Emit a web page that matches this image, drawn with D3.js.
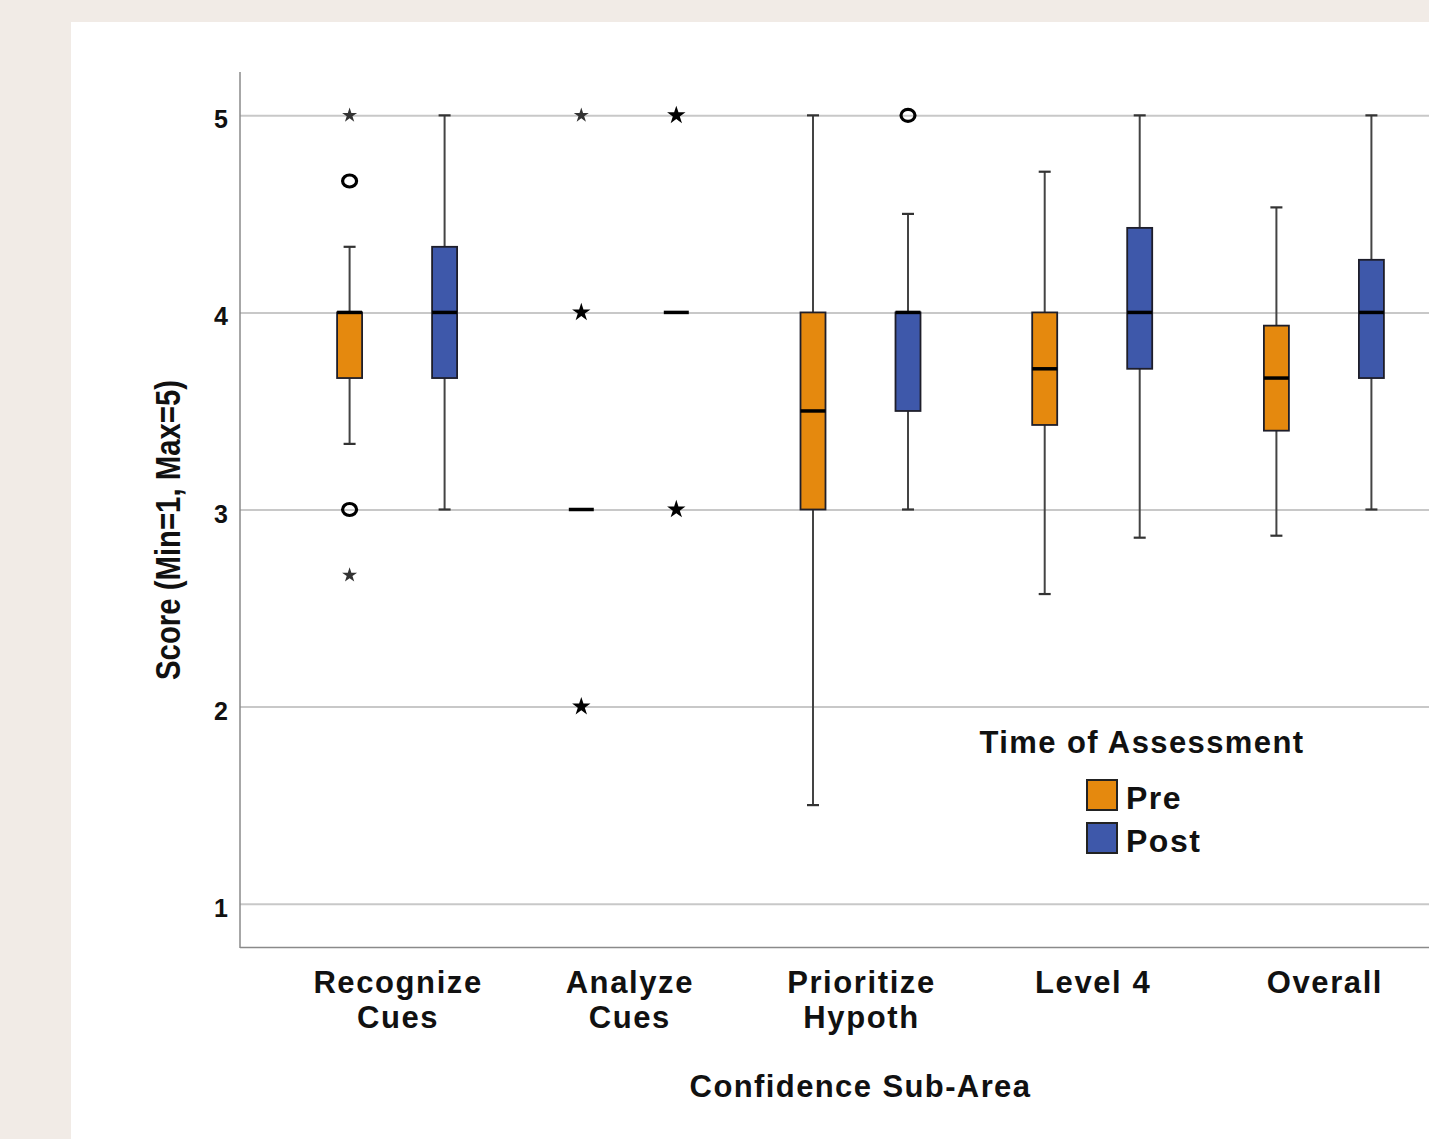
<!DOCTYPE html>
<html>
<head>
<meta charset="utf-8">
<script src="https://cdn.jsdelivr.net/npm/d3@7"></script>
<style>
  body { margin: 0; background: #f1ebe6; }
  svg { display: block; }
  text { font-family: "Liberation Sans", Arial, sans-serif; font-weight: bold; fill: #111; }
</style>
</head>
<body>
<div id="chart"></div>
<script>
// Categories on the x axis and their two-line tick labels
const categories = ["Recognize Cues", "Analyze Cues", "Prioritize Hypoth", "Level 4", "Overall"];
const tickLabels = [["Recognize", "Cues"], ["Analyze", "Cues"], ["Prioritize", "Hypoth"], ["Level 4"], ["Overall"]];
const seriesNames = ["Pre", "Post"];
const yTicks = [1, 2, 3, 4, 5];

// Box statistics per category: [lower whisker, Q1, median, Q3, upper whisker]
const preStats = [
    [3.333, 3.667, 4.0, 4.0, 4.333],
    [3.0, 3.0, 3.0, 3.0, 3.0],
    [1.5, 3.0, 3.5, 4.0, 5.0],
    [2.571, 3.429, 3.714, 4.0, 4.714],
    [2.867, 3.4, 3.667, 3.933, 4.533]
];
const postStats = [
    [3.0, 3.667, 4.0, 4.333, 5.0],
    [4.0, 4.0, 4.0, 4.0, 4.0],
    [3.0, 3.5, 4.0, 4.0, 4.5],
    [2.857, 3.714, 4.0, 4.429, 5.0],
    [3.0, 3.667, 4.0, 4.267, 5.0]
];

// Outliers: [category, series, value, kind ("o" = outlier, "*" = extreme), overlapping cases]
const outliers = [
    ["Recognize Cues", "Pre", 5.0, "*", 1],
    ["Recognize Cues", "Pre", 4.667, "o", 1],
    ["Recognize Cues", "Pre", 3.0, "o", 2],
    ["Recognize Cues", "Pre", 2.667, "*", 1],
    ["Analyze Cues", "Pre", 5.0, "*", 1],
    ["Analyze Cues", "Pre", 4.0, "*", 2],
    ["Analyze Cues", "Pre", 2.0, "*", 2],
    ["Analyze Cues", "Post", 5.0, "*", 2],
    ["Analyze Cues", "Post", 3.0, "*", 2],
    ["Prioritize Hypoth", "Post", 5.0, "o", 1]
];

const width = 1429;
const height = 1139;
const colors = { Pre: "#e5890e", Post: "#3e58aa" };

const svg = d3.select("#chart")
    .append("svg")
        .attr("width", width)
        .attr("height", height);

// beige page and white panel
svg.append("rect").attr("width", width).attr("height", height).attr("fill", "#f1ebe6");
svg.append("rect").attr("x", 71).attr("y", 22).attr("width", width - 71).attr("height", height - 22).attr("fill", "#fff");

const plotLeft = 240, plotTop = 72, plotBottom = 947;

const y = d3.scaleLinear().domain([0.78, 5.22]).range([plotBottom, plotTop]);
const x = d3.scaleBand()
    .domain(categories)
    .range([plotLeft, 1481])
    .paddingInner(0)
    .paddingOuter(0.178);
const xSub = d3.scalePoint().domain(seriesNames).range([-47.5, 47.5]);
const boxWidth = 25;
const capWidth = 12;

// gridlines + y tick labels
const yAxis = svg.append("g")
    .attr("transform", `translate(${plotLeft},0)`)
    .call(d3.axisLeft(y).tickValues(yTicks).tickSize(-(width - plotLeft)).tickPadding(12).tickFormat(d3.format("d")));
yAxis.select(".domain").remove();
yAxis.selectAll(".tick line").attr("stroke", "#c8c8c8").attr("stroke-width", 2);
yAxis.selectAll(".tick text")
    .attr("font-size", 25)
    .attr("font-family", "'Liberation Sans', Arial, sans-serif")
    .attr("font-weight", "bold")
    .attr("fill", "#111")
    .attr("dy", "0.5em");

// axis lines
svg.append("line").attr("x1", plotLeft).attr("x2", plotLeft).attr("y1", plotTop).attr("y2", plotBottom + 1)
    .attr("stroke", "#8a8a8a").attr("stroke-width", 1.5);
svg.append("line").attr("x1", plotLeft).attr("x2", width).attr("y1", plotBottom + 0.5).attr("y2", plotBottom + 0.5)
    .attr("stroke", "#8a8a8a").attr("stroke-width", 1.5);

// x tick labels
const xAxis = svg.append("g")
    .attr("transform", `translate(0,${plotBottom})`)
    .call(d3.axisBottom(x).tickSize(0).tickPadding(0));
xAxis.select(".domain").remove();
xAxis.selectAll(".tick text").each(function(d, i) {
    const t = d3.select(this);
    t.text(null)
        .attr("y", 0)
        .attr("dy", null)
        .attr("font-size", 31)
        .attr("font-family", "'Liberation Sans', Arial, sans-serif")
        .attr("font-weight", "bold")
        .attr("fill", "#111")
        .style("letter-spacing", "1.6px");
    tickLabels[i].forEach((line, j) => {
        t.append("tspan").attr("x", 1).attr("y", 46 + j * 35).text(line);
    });
});

// axis titles
svg.append("text")
    .attr("x", (plotLeft + 1481) / 2)
    .attr("y", 1097)
    .attr("text-anchor", "middle")
    .attr("font-size", 31)
    .style("letter-spacing", "1.4px")
    .text("Confidence Sub-Area");

svg.append("text")
    .attr("transform", "translate(180,530) rotate(-90)")
    .attr("text-anchor", "middle")
    .attr("font-size", 35)
    .attr("textLength", 300)
    .attr("lengthAdjust", "spacingAndGlyphs")
    .text("Score (Min=1, Max=5)");

// boxes
const boxes = [];
categories.forEach((c, i) => {
    boxes.push({ category: c, series: "Pre", s: preStats[i] });
    boxes.push({ category: c, series: "Post", s: postStats[i] });
});

const g = svg.selectAll(".box")
    .data(boxes)
    .enter()
    .append("g")
        .attr("class", "box")
        .attr("transform", d => `translate(${x(d.category) + x.bandwidth() / 2 + xSub(d.series)},0)`);

// whiskers
g.append("line")
    .attr("y1", d => y(d.s[0])).attr("y2", d => y(d.s[1]))
    .attr("stroke", "#444").attr("stroke-width", 2);
g.append("line")
    .attr("y1", d => y(d.s[3])).attr("y2", d => y(d.s[4]))
    .attr("stroke", "#444").attr("stroke-width", 2);
g.filter(d => d.s[0] !== d.s[4]).selectAll(".cap")
    .data(d => [d.s[0], d.s[4]])
    .enter()
    .append("line")
        .attr("x1", -capWidth / 2).attr("x2", capWidth / 2)
        .attr("y1", v => y(v)).attr("y2", v => y(v))
        .attr("stroke", "#333").attr("stroke-width", 2.2);

// box body
g.filter(d => d.s[1] !== d.s[3]).append("rect")
    .attr("x", -boxWidth / 2)
    .attr("width", boxWidth)
    .attr("y", d => y(d.s[3]))
    .attr("height", d => y(d.s[1]) - y(d.s[3]))
    .attr("fill", d => colors[d.series])
    .attr("stroke", "#1e1e2a")
    .attr("stroke-width", 1.8);

// median
g.append("line")
    .attr("x1", -boxWidth / 2).attr("x2", boxWidth / 2)
    .attr("y1", d => y(d.s[2])).attr("y2", d => y(d.s[2]))
    .attr("stroke", "#000").attr("stroke-width", 3.5);

// outliers and extremes
const ox = d => x(d[0]) + x.bandwidth() / 2 + xSub(d[1]);
svg.selectAll(".outlier")
    .data(outliers.filter(d => d[3] === "o"))
    .enter()
    .append("ellipse")
        .attr("cx", ox)
        .attr("cy", d => y(d[2]))
        .attr("rx", 7)
        .attr("ry", 6)
        .attr("fill", "none")
        .attr("stroke", "#000")
        .attr("stroke-width", 3.2);

svg.selectAll(".extreme")
    .data(outliers.filter(d => d[3] === "*"))
    .enter()
    .append("path")
        .attr("transform", d => `translate(${ox(d)},${y(d[2])})`)
        .attr("d", d => d3.symbol(d3.symbolStar, d[4] > 1 ? 105 : 70)())
        .attr("fill", d => d[4] > 1 ? "#000" : "#333");

// legend
const legend = svg.append("g").attr("transform", "translate(1087,780)");
legend.append("text")
    .attr("x", 55)
    .attr("y", -27)
    .attr("text-anchor", "middle")
    .attr("font-size", 31)
    .style("letter-spacing", "1.4px")
    .text("Time of Assessment");
const item = legend.selectAll(".item")
    .data(seriesNames)
    .enter()
    .append("g")
        .attr("transform", (d, i) => `translate(0,${i * 43})`);
item.append("rect")
    .attr("width", 30).attr("height", 30)
    .attr("fill", d => colors[d])
    .attr("stroke", "#222").attr("stroke-width", 2);
item.append("text")
    .attr("x", 39)
    .attr("y", 29)
    .attr("font-size", 32)
    .style("letter-spacing", "1.5px")
    .text(d => d);
</script>
</body>
</html>
